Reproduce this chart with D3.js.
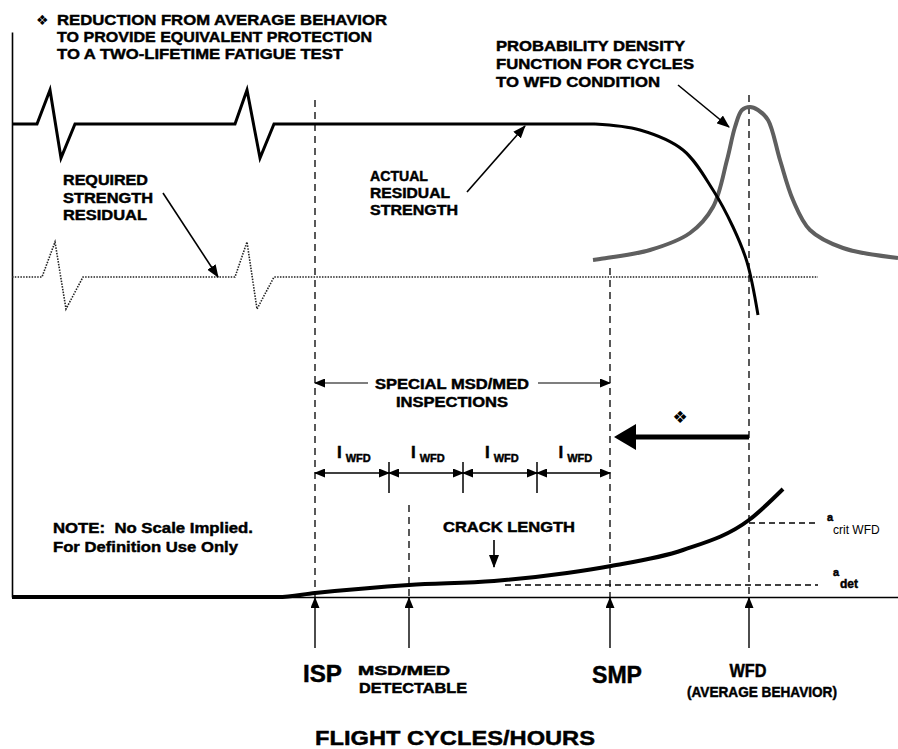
<!DOCTYPE html>
<html>
<head>
<meta charset="utf-8">
<script src="https://cdn.jsdelivr.net/npm/d3@7"></script>
<style>
  body { margin: 0; background: #fff; }
  text { font-family: "Liberation Sans", Arial, sans-serif; font-weight: bold; fill: #000; white-space: pre; }
  text.heavy { stroke: #000; stroke-width: 0.45; }
</style>
</head>
<body>
<svg id="chart"></svg>
<script>
const W = 898, H = 749;

// notional units: x = flight cycles (no scale implied), y = height above the baseline
const actualStrengthFlat = [[12, 473], [37, 473], [50, 507], [61, 439], [75, 473], [235, 473], [247, 507], [260, 439], [274, 473], [595, 473]];
const actualStrengthFall = [[595, 473], [640, 467], [683, 447], [713, 407], [733, 370], [747, 335], [758, 282]];
const requiredStrength = [[12, 320], [42, 320], [55, 355], [66, 288], [83, 320], [235, 320], [247, 355], [257, 288], [274, 320], [818, 320]];
const pdfCurve = [[593, 337], [600, 338], [650, 347], [690, 364], [713, 390], [727, 437], [735, 470], [742, 487], [750, 490], [758, 487], [768, 477], [780, 437], [793, 397], [810, 367], [843, 349], [898, 339]];
const crackLength = [[12, 0], [278, 0], [315, 4], [409, 12], [494, 16], [567, 24], [611, 31], [683, 47], [749, 77], [783, 108]];

const events = ["ISP", "MSD/MED", "SMP", "WFD"];
const eventX = [315, 409, 610, 749];
const eventTop = [497, 92, 329, 502];

const inspectionBounds = [315, 389, 463, 537, 610];
const aCrit = 74, aDet = 12;

const x = d3.scaleLinear().domain([12, 898]).range([12, 898]);
const y = d3.scaleLinear().domain([0, 565]).range([597, 32]);

const svg = d3.select("#chart").attr("width", W).attr("height", H);
const defs = svg.append("defs");

function marker(id, w, h, refX) {
  defs.append("marker").attr("id", id)
    .attr("viewBox", `0 0 ${w} ${h}`)
    .attr("refX", refX).attr("refY", h / 2)
    .attr("markerWidth", w).attr("markerHeight", h)
    .attr("markerUnits", "userSpaceOnUse")
    .attr("orient", "auto-start-reverse")
    .append("path").attr("d", `M0,0L${w},${h / 2}L0,${h}Z`).attr("fill", "#000");
}
marker("head", 13, 10, 12);
marker("small", 11, 9, 10);
marker("big", 22, 26, 2);

defs.append("filter").attr("id", "soft")
  .append("feGaussianBlur").attr("stdDeviation", 0.7);

// axes, no ticks
svg.append("g").attr("transform", `translate(0,${y(0)})`)
  .call(d3.axisBottom(x).ticks(0).tickSizeOuter(0))
  .select(".domain").attr("stroke-width", 1.6);
svg.append("g").attr("transform", `translate(${x(12)},0)`)
  .call(d3.axisLeft(y).ticks(0).tickSizeOuter(0))
  .select(".domain").attr("stroke-width", 1.6);

const lin = d3.line().x(d => x(d[0])).y(d => y(d[1]));
const smooth = d3.line().x(d => x(d[0])).y(d => y(d[1])).curve(d3.curveCatmullRom.alpha(0.5));
const mono = d3.line().x(d => x(d[0])).y(d => y(d[1])).curve(d3.curveMonotoneX);

// event dashed lines
svg.selectAll(".evline").data(events).enter().append("line")
  .attr("x1", (d, i) => x(eventX[i])).attr("x2", (d, i) => x(eventX[i]))
  .attr("y1", (d, i) => y(eventTop[i])).attr("y2", y(0))
  .attr("stroke", "#000").attr("stroke-width", 1.3).attr("stroke-dasharray", "7,5");

// crack size dashed levels
svg.append("line").attr("x1", x(749)).attr("x2", x(818)).attr("y1", y(aCrit)).attr("y2", y(aCrit))
  .attr("stroke", "#000").attr("stroke-width", 1.3).attr("stroke-dasharray", "6,4");
svg.append("line").attr("x1", x(505)).attr("x2", x(818)).attr("y1", y(aDet)).attr("y2", y(aDet))
  .attr("stroke", "#000").attr("stroke-width", 1.3).attr("stroke-dasharray", "6,4");

// required strength (dotted)
svg.append("path").attr("d", lin(requiredStrength))
  .attr("fill", "none").attr("stroke", "#222").attr("stroke-width", 1.6).attr("stroke-dasharray", "1.5,1.3");

// probability density
svg.append("path").attr("d", smooth(pdfCurve))
  .attr("fill", "none").attr("stroke", "#5e5e5e").attr("stroke-width", 4).attr("filter", "url(#soft)");

// actual residual strength
svg.append("path").attr("d", lin(actualStrengthFlat))
  .attr("fill", "none").attr("stroke", "#000").attr("stroke-width", 3).attr("stroke-linejoin", "miter");
svg.append("path").attr("d", smooth(actualStrengthFall))
  .attr("fill", "none").attr("stroke", "#000").attr("stroke-width", 3);

// crack length
svg.append("path").attr("d", mono(crackLength))
  .attr("fill", "none").attr("stroke", "#000").attr("stroke-width", 4);

// pointer arrows
const pointers = [
  [[163, 404], [218, 320]],
  [[467, 405], [525, 471]],
  [[678, 512], [729, 470]],
  [[494, 57], [494, 30]]
];
svg.selectAll(".ptr").data(pointers).enter().append("line")
  .attr("x1", d => x(d[0][0])).attr("y1", d => y(d[0][1]))
  .attr("x2", d => x(d[1][0])).attr("y2", d => y(d[1][1]))
  .attr("stroke", "#000").attr("stroke-width", 1.6).attr("marker-end", "url(#head)");

// special inspections span
const spanY = y(214);
svg.append("line").attr("x1", x(315)).attr("x2", x(368)).attr("y1", spanY).attr("y2", spanY)
  .attr("stroke", "#000").attr("stroke-width", 1.2).attr("marker-start", "url(#small)");
svg.append("line").attr("x1", x(538)).attr("x2", x(610)).attr("y1", spanY).attr("y2", spanY)
  .attr("stroke", "#000").attr("stroke-width", 1.2).attr("marker-end", "url(#small)");

// inspection intervals
const ivY = y(124);
svg.selectAll(".iv").data(d3.pairs(inspectionBounds)).enter().append("line")
  .attr("x1", d => x(d[0])).attr("x2", d => x(d[1])).attr("y1", ivY).attr("y2", ivY)
  .attr("stroke", "#000").attr("stroke-width", 1.3)
  .attr("marker-start", "url(#small)").attr("marker-end", "url(#small)");
svg.selectAll(".tick-iv").data(inspectionBounds.slice(1, -1)).enter().append("line")
  .attr("x1", d => x(d)).attr("x2", d => x(d)).attr("y1", y(135)).attr("y2", y(104))
  .attr("stroke", "#000").attr("stroke-width", 1.5);
svg.selectAll(".ivlab").data(d3.pairs(inspectionBounds)).enter().append("text")
  .attr("class", "heavy")
  .attr("x", d => x((d[0] + d[1]) / 2) - 15).attr("y", 458)
  .call(t => {
    t.append("tspan").attr("font-size", 17).text("I");
    t.append("tspan").attr("font-size", 11).attr("dx", 4).attr("dy", 4).text("WFD");
  });

// reduction arrow
svg.append("line").attr("x1", x(749)).attr("x2", x(634)).attr("y1", y(160)).attr("y2", y(160))
  .attr("stroke", "#000").attr("stroke-width", 5).attr("marker-end", "url(#big)");

// event arrows under the axis
svg.selectAll(".evarrow").data(events).enter().append("line")
  .attr("x1", (d, i) => x(eventX[i])).attr("x2", (d, i) => x(eventX[i]))
  .attr("y1", y(-51)).attr("y2", y(-1))
  .attr("stroke", "#000").attr("stroke-width", 1.4).attr("marker-end", "url(#small)");

// text
function label(str, px, py, size, opts = {}) {
  const t = svg.append("text").attr("x", px).attr("y", py).attr("font-size", size).text(str);
  if (opts.anchor) t.attr("text-anchor", opts.anchor);
  if (opts.len) t.attr("textLength", opts.len).attr("lengthAdjust", "spacingAndGlyphs");
  if (opts.weight) t.style("font-weight", opts.weight);
  else t.attr("class", "heavy");
  if (opts.family) t.style("font-family", opts.family).style("stroke", "none");
  return t;
}

label("\u2756", 36, 25, 14, { family: "DejaVu Sans" });
label("REDUCTION FROM AVERAGE BEHAVIOR", 57, 25, 15.5, { len: 330 });
label("TO PROVIDE EQUIVALENT PROTECTION", 57, 42, 15.5, { len: 315 });
label("TO A TWO-LIFETIME FATIGUE TEST", 57, 59, 15.5, { len: 286 });

label("PROBABILITY DENSITY", 496, 51, 15, { len: 189 });
label("FUNCTION FOR CYCLES", 496, 69, 15, { len: 198 });
label("TO WFD CONDITION", 496, 87, 15, { len: 164 });

label("REQUIRED", 63, 185, 14.5, { len: 85 });
label("STRENGTH", 63, 203, 14.5, { len: 90 });
label("RESIDUAL", 63, 220, 14.5, { len: 84 });

label("ACTUAL", 370, 181, 14.5, { len: 58 });
label("RESIDUAL", 370, 198, 14.5, { len: 80 });
label("STRENGTH", 370, 215, 14.5, { len: 88 });

label("SPECIAL MSD/MED", 375, 389, 14, { len: 154 });
label("INSPECTIONS", 452, 407, 14, { anchor: "middle", len: 112 });
label("\u2756", 680, 423, 17, { anchor: "middle", family: "DejaVu Sans" });

label("NOTE:  No Scale Implied.", 53, 533, 15, { len: 200 });
label("For Definition Use Only", 53, 552, 15, { len: 185 });

label("CRACK LENGTH", 443, 532, 14.5, { len: 132 });

label("a", 827, 521, 11);
label("crit WFD", 833, 534, 12, { weight: "normal" });
label("a", 833, 576, 11);
label("det", 840, 588, 12);

label("ISP", 303, 682, 23, { len: 39 });
label("MSD/MED", 404, 675, 12, { anchor: "middle", len: 92 });
label("DETECTABLE", 413, 693, 14, { anchor: "middle", len: 108 });
label("SMP", 592, 683, 23, { len: 50 });
label("WFD", 748, 677, 18, { anchor: "middle", len: 37 });
label("(AVERAGE BEHAVIOR)", 762, 697, 14, { anchor: "middle", len: 150 });

label("FLIGHT CYCLES/HOURS", 315, 745, 20.5, { len: 280 });
</script>
</body>
</html>
